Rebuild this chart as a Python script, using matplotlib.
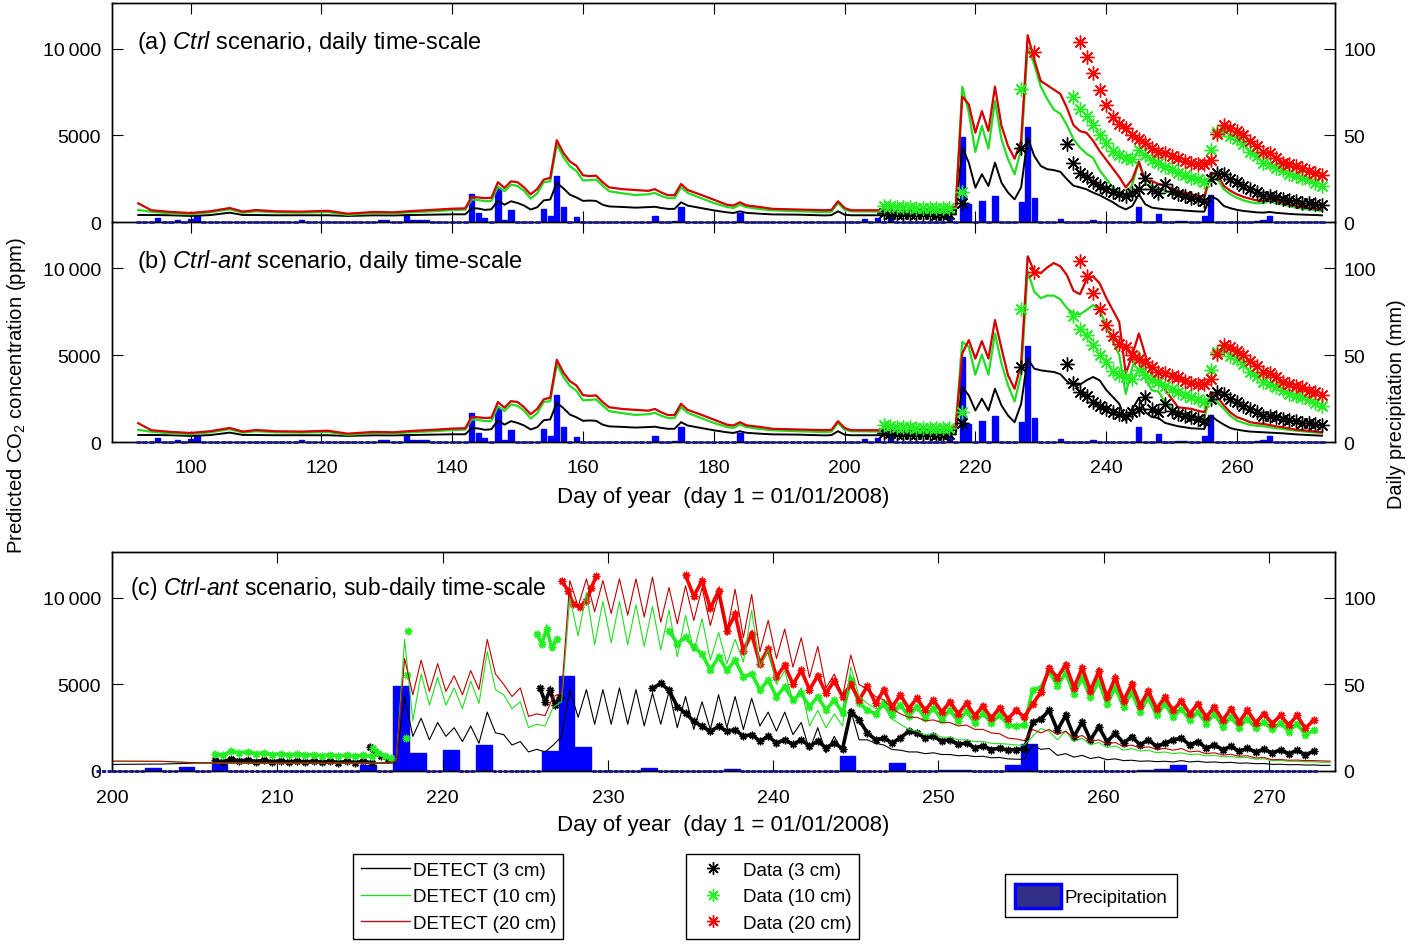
import numpy as np
import matplotlib
matplotlib.use("Agg")
import matplotlib.pyplot as plt
from matplotlib.lines import Line2D
from matplotlib.patches import Patch

plt.rcParams['font.family'] = ['Liberation Sans', 'DejaVu Sans']
plt.rcParams['mathtext.fontset'] = 'custom'
plt.rcParams['mathtext.rm'] = 'Liberation Sans'
plt.rcParams['mathtext.it'] = 'Liberation Sans:italic'
plt.rcParams['axes.linewidth'] = 1.0

# ---------------- daily precipitation (mm); days not listed are 0
rain_days = [95, 98, 100, 101, 117, 129, 130, 133, 134, 135,
             136, 143, 144, 145, 147, 148, 149, 154, 155, 156,
             157, 159, 171, 174, 175, 184, 203, 205, 207, 216,
             218, 219, 221, 223, 227, 228, 229, 233, 238, 245,
             248, 251, 252, 255, 256, 263, 264, 265]
rain_mm = [2.1, 1.0, 1.5, 3.5, 1.0, 1.0, 1.0, 3.8, 1.0, 1.0,
           1.0, 16.4, 5.2, 2.3, 19.6, 1.3, 7.1, 7.7, 3.7, 26.8,
           8.7, 2.9, 3.7, 0.8, 8.5, 5.2, 1.9, 2.3, 4.0, 3.5,
           49.0, 10.4, 12.3, 15.1, 11.7, 55.0, 13.8, 1.5, 1.1, 8.8,
           4.4, 0.8, 0.5, 3.2, 15.5, 0.5, 1.0, 3.4]

# ---------------- daily model (DETECT), common early part of (a) and (b)
early_days = [92, 94, 97, 100, 103, 106, 108, 110, 113, 117,
              121, 124, 128, 131, 134, 137, 140, 142, 143, 144,
              145, 146, 147, 148, 149, 150, 151, 152, 153, 154,
              155, 156, 157, 158, 159, 160, 161, 162, 163, 164,
              166, 168, 170, 171, 172, 173, 174, 175, 176, 178,
              180, 182, 183, 184, 185, 187, 189, 193, 197, 198,
              199, 200, 201, 206, 211, 216]
red_early = [1080, 680, 580, 520, 620, 810, 600, 690, 620, 600,
             650, 480, 580, 560, 640, 700, 770, 790, 1450, 1420,
             1380, 1400, 2300, 1970, 2350, 2300, 2000, 1600, 1900, 2450,
             2550, 4730, 4000, 3500, 3250, 2700, 2650, 2680, 2300, 2000,
             1900, 1850, 1800, 1900, 1700, 1550, 1550, 2200, 1850, 1580,
             1290, 1000, 950, 1140, 960, 870, 760, 720, 680, 700,
             1200, 810, 680, 680, 680, 700]
green_early = [700, 590, 500, 450, 560, 740, 540, 620, 560, 540,
               580, 410, 520, 500, 570, 620, 690, 715, 1300, 1270,
               1200, 1220, 2050, 1780, 2160, 2080, 1800, 1350, 1650, 2300,
               2350, 4480, 3750, 3220, 2950, 2400, 2420, 2450, 2100, 1780,
               1660, 1560, 1600, 1680, 1500, 1380, 1380, 2010, 1680, 1390,
               1100, 870, 810, 1000, 860, 750, 675, 620, 570, 600,
               1100, 714, 620, 600, 600, 640]
black_early = [405, 405, 390, 350, 400, 540, 405, 405, 390, 390,
               390, 350, 386, 380, 405, 425, 445, 445, 800, 780,
               700, 735, 1240, 1000, 1200, 1100, 950, 720, 850, 1250,
               1300, 2260, 1950, 1580, 1420, 1220, 1240, 1220, 1000, 900,
               870, 830, 860, 880, 810, 760, 760, 1140, 950, 810,
               675, 560, 520, 620, 530, 480, 440, 425, 380, 400,
               620, 425, 390, 390, 390, 400]

# days 217..273
red_a_late = [900, 7250, 6800, 5160, 6410, 5260, 7820, 5550, 4390, 3660,
              4700, 10790, 9400, 8150, 7900, 7650, 7400, 6600, 5600, 5250,
              5150, 4700, 4100, 3600, 3100, 2600, 2000, 2470, 3490, 2370,
              2370, 2200, 2080, 1950, 1790, 1700, 1600, 1520, 1465, 2850,
              2760, 2080, 1800, 1600, 1450, 1350, 1250, 1215, 1350, 1200,
              1120, 1020, 930, 860, 810, 770, 730]
green_a_late = [850, 7820, 6320, 4050, 5550, 4240, 7000, 4780, 3620, 2760,
                4200, 10080, 9110, 7820, 7100, 6500, 6250, 5600, 4800, 4300,
                3950, 3700, 3000, 2500, 2000, 1700, 1500, 2180, 3490, 2180,
                2080, 1950, 1790, 1650, 1500, 1450, 1410, 1330, 1310, 2760,
                2470, 1890, 1600, 1400, 1250, 1150, 1080, 1100, 1215, 1080,
                1020, 920, 830, 770, 720, 695, 635]
black_a_late = [500, 4300, 3430, 1985, 2760, 2080, 3430, 2270, 1700, 1310,
                2000, 4880, 3820, 3240, 3050, 3000, 2900, 2470, 2100, 2000,
                1890, 1700, 1550, 1350, 1150, 900, 730, 925, 1600, 1020,
                830, 780, 730, 710, 695, 660, 635, 610, 600, 1500,
                1310, 925, 800, 700, 640, 600, 560, 540, 580, 530,
                500, 470, 445, 430, 415, 405, 385]
red_b_late = [900, 5090, 5860, 4800, 5800, 4800, 7010, 5380, 3830, 3060,
              4500, 10680, 9810, 9710, 10040, 10290, 10100, 9600, 8700, 8500,
              9330, 9520, 9130, 8300, 7600, 6900, 3930, 4990, 6240, 4990,
              3830, 3400, 3000, 2500, 2000, 1950, 1910, 1800, 1715, 2870,
              2580, 2100, 1700, 1430, 1300, 1140, 1080, 1040, 980, 900,
              850, 780, 710, 680, 640, 600, 560]
green_b_late = [850, 5760, 5470, 3870, 5030, 3870, 6240, 4510, 3260, 2330,
                3900, 9810, 8650, 8270, 8420, 8420, 8200, 7700, 7400, 7340,
                7590, 7880, 7590, 6700, 5800, 5000, 2770, 4320, 5180, 3640,
                2970, 2900, 2300, 1900, 1715, 1620, 1520, 1450, 1370, 2770,
                2290, 1900, 1500, 1230, 1100, 980, 940, 905, 850, 790,
                750, 700, 655, 620, 580, 550, 520]
black_b_late = [500, 3160, 2680, 1810, 2490, 1810, 3060, 2100, 1520, 1140,
                2200, 4800, 4220, 4120, 4070, 4030, 3900, 3500, 3260, 3300,
                3550, 3740, 3550, 3000, 2600, 2200, 1230, 1910, 2520, 1715,
                1430, 1380, 1100, 1000, 905, 850, 790, 770, 750, 1520,
                1230, 1000, 800, 710, 650, 600, 580, 560, 540, 520,
                500, 470, 440, 420, 400, 380, 365]

# ---------------- daily observations
obs3_days = list(range(206, 217)) + [218, 227] + list(range(234, 274))
obs3 = [520, 490, 470, 460, 450, 450, 440, 440, 430, 430, 450, 1120, 4300,
        4490, 3390, 2850, 2620, 2310, 2080, 1890, 1730, 1600, 1500,
        1700, 1890, 2560, 1890, 1700, 2180, 1790, 1600, 1500, 1410,
        1310, 1215, 2470, 2850, 2760, 2470, 2310, 2080, 1890, 1730,
        1500, 1500, 1460, 1350, 1270, 1215, 1120, 1080, 1020, 960]
obs10_days = list(range(206, 217)) + [218, 227] + list(range(235, 274))
obs10 = [950, 900, 880, 860, 850, 830, 820, 820, 810, 800, 800, 1730, 7670,
         7250, 6510, 6130, 5590, 5010, 4590, 4100, 3850, 3720, 3620,
         4160, 3850, 3580, 3430, 3200, 3040, 2850, 2700, 2560, 2470,
         2310, 4160, 5200, 5320, 4970, 4780, 4490, 4050, 3820, 3430,
         3330, 3140, 3000, 2760, 2660, 2560, 2470, 2270, 2080]
obs20_days = [229] + list(range(236, 274))
obs20 = [9800,
         10400, 9560, 8590, 7630, 6740, 6090, 5650, 5450, 5010, 4780,
         4590, 4300, 4050, 3970, 3820, 3720, 3530, 3390, 3330, 3330,
         3600, 5070, 5590, 5450, 5260, 5010, 4680, 4390, 4050, 3970,
         3720, 3430, 3330, 3240, 3140, 2950, 2850, 2700]

# ---------------- sub-daily model, panel (c)
c_early_t = [200, 203, 205, 207, 210, 213, 216, 216.9]
red_c_early = [570, 560, 480, 470, 460, 460, 470, 500]
green_c_early = [560, 550, 470, 460, 450, 450, 460, 480]
black_c_early = [380, 400, 450, 460, 450, 440, 440, 450]
# from 217.2 on, alternating night low / afternoon high, half a day apart
red_c = [600, 6500, 4400, 6400, 4600, 6200, 4600, 5500, 4400, 5800,
         4700, 7600, 5600, 5000, 4300, 4800, 3150, 3300, 3200, 4300,
         4500, 11000, 9500, 11100, 9200, 11000, 9100, 11100, 9000, 11100,
         8900, 11200, 8600, 10600, 8500, 10700, 8700, 10600, 8400, 10200,
         8000, 10500, 7700, 10200, 6900, 8700, 6500, 8200, 6000, 7700,
         5400, 7200, 4800, 5600, 4300, 6700, 5000, 4700, 4300, 4100,
         3600, 3300, 3100, 3100, 2900, 2950, 2800, 2800, 2600, 2650,
         2400, 2400, 2200, 2150, 1900, 1850, 1750, 2400, 2200, 2400,
         2100, 2300, 1900, 2050, 1700, 1800, 1550, 1650, 1400, 1500,
         1320, 1400, 1250, 1300, 1200, 1300, 1100, 1150, 1000, 1050,
         920, 960, 850, 880, 750, 780, 650, 660, 620, 630,
         600, 600, 580, 570]
green_c = [600, 7600, 2900, 5600, 3800, 5400, 3800, 4800, 3600, 5200,
           3900, 6900, 4700, 4400, 3600, 4000, 2500, 2700, 2600, 3700,
           4000, 10000, 7800, 10300, 7300, 9800, 7400, 9800, 7300, 9600,
           7200, 9500, 7000, 9300, 6600, 9000, 6900, 8800, 6400, 8000,
           6200, 7600, 6300, 9300, 6000, 7000, 5000, 5800, 4000, 4800,
           2600, 3500, 2500, 3300, 2600, 6000, 4300, 3900, 3600, 3700,
           3000, 2700, 2400, 2300, 2100, 2150, 1950, 1950, 1800, 1800,
           1700, 1700, 1600, 1580, 1550, 1500, 1500, 2000, 2450, 2300,
           1800, 2290, 1700, 1900, 1500, 1650, 1350, 1450, 1200, 1300,
           1150, 1200, 1050, 1100, 1000, 1050, 950, 980, 880, 900,
           820, 840, 760, 780, 680, 700, 600, 600, 560, 560,
           530, 530, 500, 500]
black_c = [500, 4300, 2000, 3050, 1800, 2800, 2000, 2500, 1700, 2600,
           1600, 3400, 2200, 2100, 1500, 1700, 1100, 1250, 1100, 1500,
           2000, 4700, 3100, 4700, 2700, 4700, 2700, 4800, 2700, 4700,
           2600, 4500, 2700, 4600, 2500, 4300, 2400, 4000, 2400, 4400,
           2500, 4300, 2400, 4200, 2600, 3400, 2300, 3400, 2100, 2800,
           1200, 2500, 1050, 2000, 1100, 3500, 1800, 1800, 1600, 1500,
           1240, 1200, 1100, 1100, 1000, 1050, 950, 950, 880, 900,
           830, 850, 760, 780, 700, 680, 670, 1500, 1250, 1300,
           900, 1000, 800, 900, 720, 800, 650, 700, 600, 620,
           560, 580, 540, 560, 520, 600, 520, 560, 500, 520,
           480, 500, 450, 460, 420, 430, 380, 390, 360, 370,
           340, 350, 320, 330]

# ---------------- sub-daily observations, panel (c)
obs3_c_t1 = 206.2      # start of a half-daily run
obs3_c_v1 = [620, 520, 680, 580, 640, 540, 620, 520, 600, 500,
             590, 500, 580, 490, 570, 480, 560, 480, 560, 470]
obs3_c_t2 = [215.6, 215.9, 216.3, 216.7]
obs3_c_v2 = [1400, 1100, 850, 700]
obs3_c_t3 = [225.9, 226.2, 226.5, 226.8, 227.1]
obs3_c_v3 = [4770, 4000, 4670, 3820, 4300]
obs3_c_t4 = 232.7
obs3_c_v4 = [4770, 5060, 4670, 3720, 3340, 2860, 2580, 2290, 2580, 2290,
             2390, 2000, 2100, 1720, 2000, 1620, 1810, 1530, 1810, 1430,
             1720, 1340, 1620, 1280, 3430, 2960, 2190, 1810, 1900, 1620,
             1910, 2290, 2190, 1910, 2000, 1720, 1810, 1530, 1620, 1340,
             1450, 1240, 1320, 1200, 1240, 1270, 2830, 3000, 3500, 2360,
             3210, 1980, 2830, 1800, 2550, 1700, 2170, 1610, 1980, 1510,
             1800, 1420, 1610, 1800, 1890, 1510, 1700, 1320, 1510, 1230,
             1420, 1130, 1320, 1080, 1270, 1040, 1230, 1000, 1190, 945,
             1130]

obs10_c_t1 = 206.2
obs10_c_v1 = [1000, 900, 1150, 1050, 1100, 1000, 1050, 950, 1000, 920,
              980, 900, 950, 880, 930, 860, 920, 850, 900, 840]
obs10_c_t2 = [215.8, 216.1, 216.5, 216.9]
obs10_c_v2 = [1300, 1050, 850, 750]
obs10_c_t3 = [217.8, 217.85, 217.9]
obs10_c_v3 = [1900, 5530, 8110]
obs10_c_t4 = [225.7, 226.0, 226.3, 226.6, 226.9]
obs10_c_v4 = [7920, 7350, 8200, 7150, 7600]
obs10_c_t5 = 233.7
obs10_c_v5 = [8110, 7350, 7730, 7150, 6770, 5820, 6600, 5820, 6390, 5440,
              5630, 4670, 5250, 4290, 4870, 4100, 4480, 3720, 4290, 3530,
              4100, 3340, 5250, 3910, 3530, 3300, 3910, 3240, 3820, 3150,
              3720, 3050, 3630, 2960, 3530, 2860, 3440, 2800, 3340, 2770,
              3240, 2670, 2580, 2650, 4700, 4820, 5760, 4910, 5670, 4440,
              5390, 4250, 5200, 3870, 4820, 3690, 4540, 3400, 4250, 3210,
              3870, 3120, 3590, 2930, 3400, 2740, 3310, 2550, 3120, 2510,
              3020, 2460, 2830, 2400, 2780, 2270, 2740, 2080, 2360]

obs20_c_t1 = [227.2, 227.6, 227.9, 228.3, 228.7, 229.0, 229.3]
obs20_c_v1 = [11000, 10400, 9640, 9480, 9830, 10590, 11260]
obs20_c_t2 = 234.7
obs20_c_v2 = [11300, 10100, 11000, 9400, 10400, 8110, 9060, 6960, 7920, 6200,
              7060, 5440, 6100, 5000, 5820, 4700, 5500, 4500, 5200, 4300,
              5000, 4100, 4900, 3900, 4700, 3700, 4400, 3600, 4200, 3500,
              4100, 3400, 4000, 3300, 3900, 3200, 3750, 3050, 3650, 3000,
              3500, 3120, 3870, 4540, 5950, 5390, 6140, 4820, 5950, 4630,
              5760, 4250, 5390, 4060, 5010, 3780, 4630, 3590, 4250, 3500,
              4060, 3310, 3870, 3120, 3690, 2930, 3590, 2830, 3500, 2780,
              3310, 2740, 3210, 2650, 3210, 2460, 2930]

# ---------------- styling
C_BLK = '#000000'
C_GRN = '#22dd22'
C_RED = '#d40000'
D_GRN = '#22f022'
D_RED = '#ff0000'
AST = (8, 2, 0)
FS = 14

fig = plt.figure(figsize=(14.15, 9.45), dpi=100)
L, W = 0.0792, 0.8643
ax_a = fig.add_axes([L, 0.7640, W, 0.2317])
ax_b = fig.add_axes([L, 0.5312, W, 0.2328])
ax_c = fig.add_axes([L, 0.1831, W, 0.2317])


def rain_series(first, last):
    d = np.arange(first, last + 1)
    mm = np.zeros(len(d))
    for day, v in zip(rain_days, rain_mm):
        if first <= day <= last:
            mm[day - first] = v
    return d, mm


def setup(ax, xlim, xticks, rain_shift, rain_width, first, last, zero_ls, xpad):
    ax2 = ax.twinx()
    d, mm = rain_series(first, last)
    wet = mm > 0
    ax2.bar(d[wet] + rain_shift, mm[wet], width=rain_width, color='#0000ff',
            edgecolor='#0000ff', linewidth=1.0)
    # zero days: flat bars give the dotted blue base line
    ax.bar(d[~wet] + rain_shift, np.zeros((~wet).sum()), width=rain_width,
           facecolor='none', edgecolor='#1c1c8a', linewidth=2.0,
           linestyle=zero_ls, zorder=3, clip_on=False)
    ax2.set_ylim(0, 126.5)
    ax2.set_yticks([0, 50, 100])
    ax2.tick_params(axis='y', direction='in', length=8, labelsize=FS, pad=6)
    ax.set_zorder(ax2.get_zorder() + 1)
    ax.patch.set_visible(False)
    ax.set_xlim(*xlim)
    ax.set_ylim(0, 12650)
    ax.set_xticks(xticks)
    ax.set_yticks([0, 5000, 10000])
    ax.set_yticklabels(['0', '5000', '10\u2009000'])
    ax.tick_params(axis='both', direction='in', length=8, labelsize=FS,
                   top=True, right=False, pad=8)
    ax.tick_params(axis='x', pad=xpad)
    return ax2


setup(ax_a, (88, 275), range(100, 261, 20), 0, 0.8, 92, 273, '-', 12)
ax2_b = setup(ax_b, (88, 275), range(100, 261, 20), 0, 0.8, 92, 273, '-', 12)
setup(ax_c, (200, 274), range(200, 271, 10), -0.5, 0.96, 200, 273, (0, (1, 1)), 13)
ax_a.tick_params(axis='x', labelbottom=False)
ax_b.spines['top'].set_visible(False)
ax2_b.spines['top'].set_visible(False)

late_days = 217 + np.arange(len(red_a_late))
for ax, reds, greens, blacks in [(ax_a, red_a_late, green_a_late, black_a_late),
                                 (ax_b, red_b_late, green_b_late, black_b_late)]:
    x = np.concatenate([early_days, late_days])
    ax.plot(x, black_early + blacks, color=C_BLK, lw=1.4)
    ax.plot(x, green_early + greens, color=C_GRN, lw=1.6)
    ax.plot(x, red_early + reds, color=C_RED, lw=1.6)
    ax.plot(obs3_days, obs3, ls='none', marker=AST, ms=10, mew=1.0, color=C_BLK)
    ax.plot(obs10_days, obs10, ls='none', marker=AST, ms=10, mew=1.0, color=D_GRN)
    ax.plot(obs20_days, obs20, ls='none', marker=AST, ms=10, mew=1.0, color=D_RED)


def run(t0, vals):
    return t0 + 0.5 * np.arange(len(vals)), vals


def obs_c(t, v, color, joined=True):
    if joined:
        ax_c.plot(t, v, color=color, lw=2.6, solid_joinstyle='miter')
    ax_c.plot(t, v, ls='none', marker=AST, ms=5.5, mew=1.0, color=color)


obs_c(*run(obs3_c_t1, obs3_c_v1), C_BLK)
obs_c(obs3_c_t2, obs3_c_v2, C_BLK)
obs_c(obs3_c_t3, obs3_c_v3, C_BLK)
obs_c(*run(obs3_c_t4, obs3_c_v4), C_BLK)
obs_c(*run(obs10_c_t1, obs10_c_v1), D_GRN)
obs_c(obs10_c_t2, obs10_c_v2, D_GRN)
obs_c(obs10_c_t3, obs10_c_v3, D_GRN, joined=False)
obs_c(obs10_c_t4, obs10_c_v4, D_GRN)
obs_c(*run(obs10_c_t5, obs10_c_v5), D_GRN)
obs_c(obs20_c_t1, obs20_c_v1, D_RED)
obs_c(*run(obs20_c_t2, obs20_c_v2), D_RED)

tc = np.concatenate([c_early_t, 217.2 + 0.5 * np.arange(len(red_c))])
ax_c.plot(tc, black_c_early + black_c, color=C_BLK, lw=0.8)
ax_c.plot(tc, green_c_early + green_c, color=C_GRN, lw=0.8)
ax_c.plot(tc, red_c_early + red_c, color='#c00000', lw=0.8)

# panel titles
ax_a.text(0.0204, 0.826, '(a) $\\it{Ctrl}$ scenario, daily time-scale',
          transform=ax_a.transAxes, fontsize=17, va='center')
ax_b.text(0.0204, 0.823, '(b) $\\it{Ctrl}$-$\\it{ant}$ scenario, daily time-scale',
          transform=ax_b.transAxes, fontsize=17, va='center')
ax_c.text(0.0147, 0.836, '(c) $\\it{Ctrl}$-$\\it{ant}$ scenario, sub-daily time-scale',
          transform=ax_c.transAxes, fontsize=16.5, va='center')

fig.text(0.012, 0.581, 'Predicted CO$_2$ concentration (ppm)', rotation=90,
         ha='center', va='center', fontsize=14.6)
fig.text(0.9866, 0.5725, 'Daily precipitation (mm)', rotation=90,
         ha='center', va='center', fontsize=14.3)
fig.text(0.511, 0.474, 'Day of year  (day 1 = 01/01/2008)', ha='center',
         va='center', fontsize=16)
fig.text(0.511, 0.126, 'Day of year  (day 1 = 01/01/2008)', ha='center',
         va='center', fontsize=16)

# legends
leg_kw = dict(loc='center', frameon=True, fancybox=False, edgecolor='k',
              framealpha=1, fontsize=13.5, borderaxespad=0)
h1 = [Line2D([], [], color=C_BLK, lw=1), Line2D([], [], color=C_GRN, lw=1),
      Line2D([], [], color='#b01818', lw=1)]
l1 = fig.legend(h1, ['DETECT (3 cm)', 'DETECT (10 cm)', 'DETECT (20 cm)'],
                bbox_to_anchor=(0.324, 0.050), handlelength=2.6,
                handletextpad=0.15, labelspacing=0.5, borderpad=0.4, **leg_kw)
h2 = [Line2D([], [], ls='none', marker=AST, ms=9, mew=1, color=c)
      for c in (C_BLK, D_GRN, D_RED)]
l2 = fig.legend(h2, ['Data (3 cm)', 'Data (10 cm)', 'Data (20 cm)'],
                bbox_to_anchor=(0.546, 0.050), handlelength=2.0,
                handletextpad=0.6, labelspacing=0.5, borderpad=0.4, **leg_kw)
h3 = [Patch(facecolor='#332f87', edgecolor='#0000ff', linewidth=2.5)]
l3 = fig.legend(h3, ['Precipitation'], bbox_to_anchor=(0.771, 0.051),
                handlelength=2.45, handleheight=1.6, handletextpad=0.2,
                borderpad=0.5, **leg_kw)
for lg in (l1, l2, l3):
    lg.get_frame().set_linewidth(1.0)

fig.savefig('out.png', dpi=100)
